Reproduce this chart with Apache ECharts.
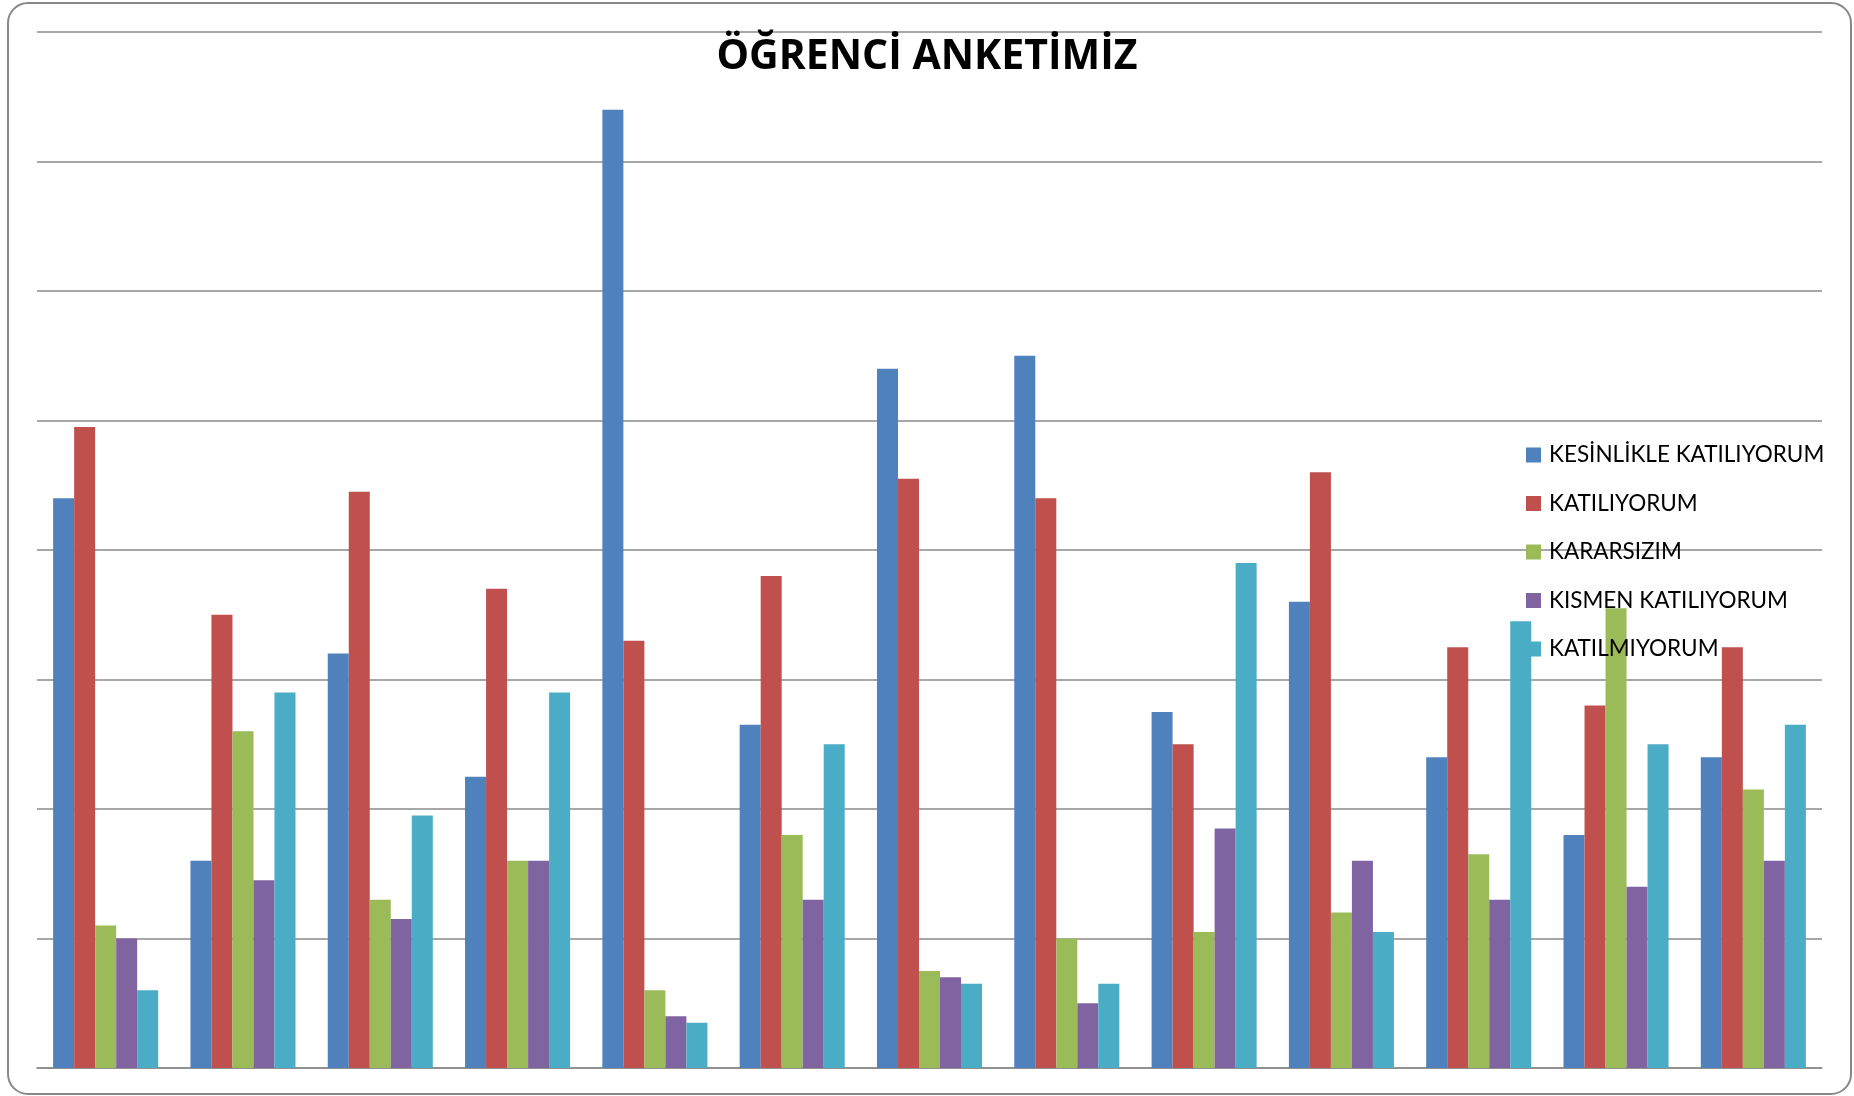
<!DOCTYPE html>
<html>
<head>
<meta charset="utf-8">
<script src="https://cdn.jsdelivr.net/npm/echarts@6/dist/echarts.min.js"></script>
<style>
html,body{margin:0;padding:0;background:#fff;}
#chart{width:1854px;height:1096px;}
</style>
</head>
<body>
<div id="chart"></div>
<script>
const categories = ["1","2","3","4","5","6","7","8","9","10","11","12","13"];
const seriesNames = ["KESİNLİKLE KATILIYORUM","KATILIYORUM","KARARSIZIM","KISMEN KATILIYORUM","KATILMIYORUM"];
const kesinlikleKatiliyorum = [88,32,64,45,148,53,108,110,55,72,48,36,48];
const katiliyorum          = [99,70,89,74,66,76,91,88,50,92,65,56,65];
const kararsizim           = [22,52,26,32,12,36,15,20,21,24,33,71,43];
const kismenKatiliyorum    = [20,29,23,32,8,26,14,10,37,32,26,28,32];
const katilmiyorum         = [12,58,39,58,7,50,13,13,78,21,69,50,53];
const colors = ["#4F81BD","#C0504D","#9BBB59","#8064A2","#4BACC6"];
const titleText = "ÖĞRENCİ ANKETİMİZ";

const allValues = [kesinlikleKatiliyorum,katiliyorum,kararsizim,kismenKatiliyorum,katilmiyorum];

const chart = echarts.init(document.getElementById('chart'), null, {renderer:'canvas'});
chart.setOption({
  animation:false,
  backgroundColor:'#fff',
  title:{
    text:titleText,
    left:'center',
    top:32,
    textStyle:{fontFamily:'Open Sans',fontWeight:'bold',fontSize:41,color:'#000'}
  },
  legend:{
    orient:'vertical',
    left:1526,
    top:443,
    padding:0,
    itemWidth:15,
    itemHeight:15,
    itemGap:24.5,
    icon:'rect',
    data:seriesNames,
    textStyle:{fontFamily:'Lato',fontSize:22.5,color:'#000',lineHeight:24,padding:[0,0,0,3]}
  },
  grid:{left:37,right:32,top:32,bottom:28,containLabel:false},
  xAxis:{
    type:'category',
    data:categories,
    axisLine:{show:true,lineStyle:{color:'#8a8a8a',width:1.5}},
    axisTick:{show:false},
    axisLabel:{show:false}
  },
  yAxis:{
    type:'value',
    min:0,max:160,interval:20,
    axisLine:{show:false},
    axisTick:{show:false},
    axisLabel:{show:false},
    splitLine:{show:true,lineStyle:{color:'#8a8a8a',width:1.5}}
  },
  series: seriesNames.map((n,i)=>({
    name:n,
    type:'bar',
    data:allValues[i],
    barGap:'0%',
    barCategoryGap:'23.5%',
    itemStyle:{color:colors[i]}
  })),
  graphic:[{
    type:'rect',
    shape:{x:8,y:3,width:1843,height:1091,r:20},
    style:{fill:'none',stroke:'#888',lineWidth:2},
    silent:true,
    z:100
  }]
});
</script>
</body>
</html>
